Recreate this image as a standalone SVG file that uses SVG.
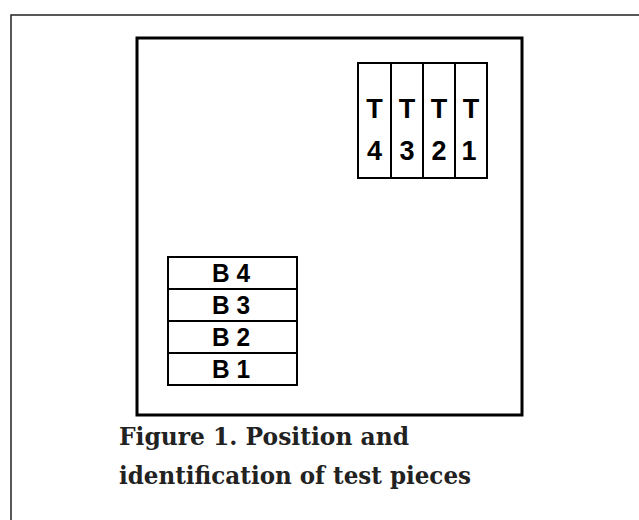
<svg xmlns="http://www.w3.org/2000/svg" width="639" height="520" viewBox="0 0 639 520">
<style>
.frame{fill:none;stroke:#222;stroke-width:1.5}
.box{fill:#fff;stroke:#000;stroke-width:3}
.piece{fill:#fff;stroke:#000;stroke-width:2}
.lbl{font-family:"Liberation Sans",Arial,sans-serif;font-weight:bold;font-size:27px;fill:#000;text-anchor:middle}
.bl{font-family:"Liberation Sans",Arial,sans-serif;font-weight:bold;font-size:25px;fill:#000}
.cap{font-family:"DejaVu Serif","Liberation Serif",serif;font-weight:bold;font-size:25px;fill:#222}
</style>
<rect width="639" height="520" fill="#fff"/>
<rect class="frame" x="11" y="15" width="660" height="540"/>
<g id="plate"><rect class="box" x="137" y="38" width="385" height="377"/></g>
<g id="T4"><rect class="piece" x="358" y="63" width="33" height="115"/><text class="lbl" x="374.5" y="118">T</text><text class="lbl" x="374.5" y="160">4</text></g>
<g id="T3"><rect class="piece" x="391" y="63" width="32" height="115"/><text class="lbl" x="407" y="118">T</text><text class="lbl" x="407" y="160">3</text></g>
<g id="T2"><rect class="piece" x="423" y="63" width="32" height="115"/><text class="lbl" x="439" y="118">T</text><text class="lbl" x="439" y="160">2</text></g>
<g id="T1"><rect class="piece" x="455" y="63" width="32" height="115"/><text class="lbl" x="471" y="118">T</text><text class="lbl" x="469" y="160">1</text></g>
<g id="B4"><rect class="piece" x="168" y="257" width="129" height="32"/><text class="bl" x="212" y="282" textLength="38" lengthAdjust="spacingAndGlyphs">B 4</text></g>
<g id="B3"><rect class="piece" x="168" y="289" width="129" height="32"/><text class="bl" x="212" y="314" textLength="38" lengthAdjust="spacingAndGlyphs">B 3</text></g>
<g id="B2"><rect class="piece" x="168" y="321" width="129" height="32"/><text class="bl" x="212" y="346" textLength="38" lengthAdjust="spacingAndGlyphs">B 2</text></g>
<g id="B1"><rect class="piece" x="168" y="353" width="129" height="32"/><text class="bl" x="212" y="378" textLength="38" lengthAdjust="spacingAndGlyphs">B 1</text></g>
<g id="connectors"></g>
<text class="cap" x="119" y="445" textLength="290" lengthAdjust="spacingAndGlyphs">Figure 1. Position and</text>
<text class="cap" x="119" y="484" textLength="352" lengthAdjust="spacingAndGlyphs">identification of test pieces</text>
</svg>
